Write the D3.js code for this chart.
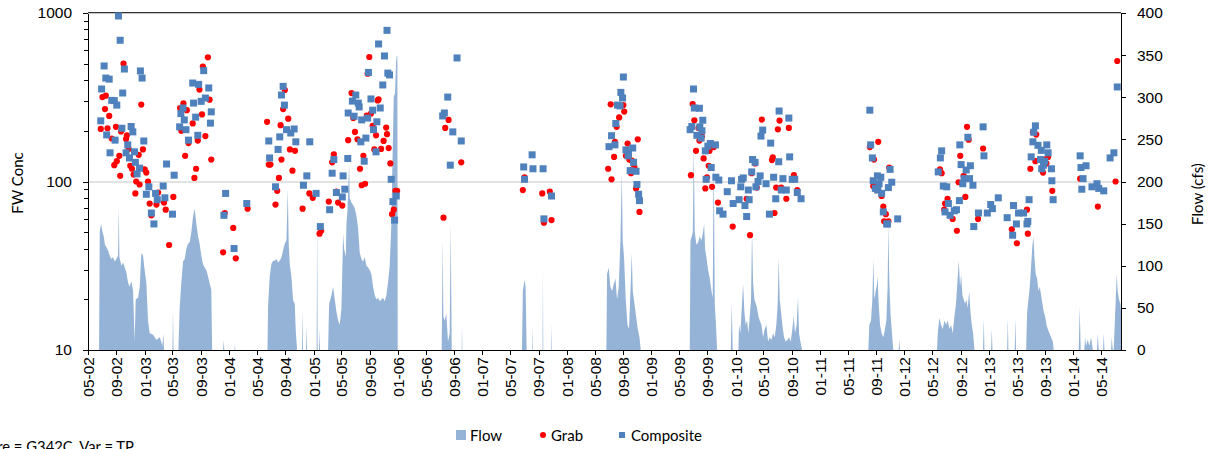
<!DOCTYPE html>
<html>
<head>
<meta charset="utf-8">
<script src="https://cdn.jsdelivr.net/npm/d3@7"></script>
<style>
	body { margin: 0; background: #fff; }
	svg { display: block; font-family: Lato, "Liberation Sans", sans-serif; }
	.axis path, .axis line { stroke: #000; shape-rendering: crispEdges; }
	.axis text { font-size: 15.5px; fill: #000; }
</style>
</head>
<body>
<div id="chart-container"></div>
<script>

// decimal years, daily flow (cfs)
var flow = [
	[2002.333,0],
	[2002.46,0],[2002.468,140],[2002.484,150],[2002.50,140],[2002.515,135],[2002.53,125],[2002.547,122],[2002.567,118],[2002.586,112],[2002.606,108],[2002.626,110],[2002.646,105],[2002.665,108],[2002.685,112],[2002.693,170],[2002.701,110],[2002.725,100],[2002.744,104],[2002.764,98],[2002.784,92],[2002.803,80],[2002.823,75],[2002.843,82],[2002.863,70],[2002.882,10],[2002.894,60],[2002.922,62],[2002.942,75],[2002.961,115],[2002.981,112],[2003.00,95],[2003.02,80],[2003.04,35],[2003.06,20],[2003.10,18],[2003.14,12],[2003.18,15],[2003.21,5],[2003.222,20],[2003.23,0],
	[2003.33,0],[2003.336,49],[2003.342,0],
	[2003.40,0],[2003.415,50],[2003.435,80],[2003.455,105],[2003.475,108],[2003.494,120],[2003.514,126],[2003.534,128],[2003.554,140],[2003.573,158],[2003.593,168],[2003.613,150],[2003.633,135],[2003.652,126],[2003.672,112],[2003.692,102],[2003.711,98],[2003.731,95],[2003.75,88],[2003.77,79],[2003.79,72],[2003.80,0],
	[2003.93,0],[2003.937,12],[2003.944,0],[2004.066,0],[2004.07,8],[2004.075,0],
	[2004.455,0],[2004.462,53],[2004.481,87],[2004.501,102],[2004.521,106],[2004.541,106],[2004.56,108],[2004.58,104],[2004.60,106],[2004.62,110],[2004.639,118],[2004.659,126],[2004.679,130],[2004.695,191],[2004.706,126],[2004.718,102],[2004.738,87],[2004.758,59],[2004.777,55],[2004.789,23],[2004.805,0],
	[2004.862,0],[2004.868,48],[2004.874,0],[2004.91,0],[2004.916,30],[2004.922,0],[2005.036,0],[2005.042,165],[2005.048,0],[2005.064,0],[2005.07,25],[2005.076,0],
	[2005.172,0],[2005.184,55],[2005.212,65],[2005.231,75],[2005.251,60],[2005.271,45],[2005.291,35],[2005.31,30],[2005.33,50],[2005.35,138],[2005.362,120],[2005.382,110],[2005.389,150],[2005.401,165],[2005.421,221],[2005.428,180],[2005.448,175],[2005.468,172],[2005.488,168],[2005.507,160],[2005.527,145],[2005.547,115],[2005.567,108],[2005.586,105],[2005.606,110],[2005.626,100],[2005.646,98],[2005.665,95],[2005.685,90],[2005.705,75],[2005.725,65],[2005.744,60],[2005.764,62],[2005.784,58],[2005.804,60],[2005.823,62],[2005.843,58],[2005.863,65],[2005.882,80],[2005.902,100],[2005.922,150],[2005.934,220],[2005.95,300],[2005.965,305],[2005.977,340],[2005.985,350],[2005.993,348],[2005.997,0],
	[2006.518,0],[2006.53,132],[2006.538,40],[2006.554,35],[2006.573,43],[2006.593,10],[2006.613,20],[2006.625,150],[2006.637,0],[2006.755,0],[2006.759,30],[2006.763,0],
	[2007.47,0],[2007.48,70],[2007.50,83],[2007.513,75],[2007.525,0],[2007.588,0],[2007.592,28],[2007.596,0],[2007.714,0],[2007.718,98],[2007.722,0],[2007.813,0],[2007.817,31],[2007.821,0],
	[2008.469,0],[2008.477,90],[2008.497,98],[2008.516,75],[2008.536,70],[2008.556,78],[2008.576,85],[2008.595,60],[2008.615,75],[2008.635,130],[2008.651,211],[2008.662,130],[2008.678,110],[2008.698,60],[2008.718,30],[2008.737,25],[2008.757,80],[2008.769,115],[2008.781,70],[2008.801,55],[2008.82,40],[2008.84,25],[2008.86,15],[2008.876,0],
	[2009.456,0],[2009.464,130],[2009.48,135],[2009.492,140],[2009.503,243],[2009.515,140],[2009.535,125],[2009.555,128],[2009.574,135],[2009.594,130],[2009.614,140],[2009.626,150],[2009.638,120],[2009.653,110],[2009.673,95],[2009.693,85],[2009.713,70],[2009.728,62],[2009.74,237],[2009.752,55],[2009.764,35],[2009.78,0],
	[2009.942,0],[2009.953,55],[2009.965,0],[2010.032,0],[2010.04,30],[2010.056,20],[2010.072,50],[2010.088,78],[2010.103,45],[2010.119,30],[2010.135,35],[2010.151,20],[2010.167,40],[2010.182,60],[2010.194,144],[2010.206,80],[2010.222,60],[2010.238,55],[2010.253,50],[2010.269,40],[2010.285,35],[2010.305,30],[2010.325,15],[2010.344,25],[2010.364,30],[2010.384,10],[2010.403,15],[2010.423,12],[2010.443,20],[2010.463,15],[2010.482,30],[2010.498,55],[2010.51,110],[2010.522,60],[2010.538,45],[2010.553,30],[2010.573,15],[2010.593,10],[2010.613,12],[2010.632,15],[2010.652,10],[2010.672,25],[2010.688,40],[2010.703,20],[2010.723,30],[2010.739,63],[2010.751,20],[2010.767,10],[2010.787,0],
	[2011.572,0],[2011.584,30],[2011.604,35],[2011.62,60],[2011.632,108],[2011.643,60],[2011.659,70],[2011.671,75],[2011.683,87],[2011.695,55],[2011.711,30],[2011.73,20],[2011.75,15],[2011.77,25],[2011.786,35],[2011.801,75],[2011.809,150],[2011.821,80],[2011.837,40],[2011.853,20],[2011.868,0],[2011.932,0],[2011.94,12],[2011.947,0],
	[2012.386,0],[2012.394,20],[2012.413,38],[2012.433,30],[2012.453,25],[2012.473,35],[2012.492,30],[2012.512,35],[2012.532,25],[2012.551,30],[2012.571,20],[2012.591,40],[2012.61,55],[2012.626,80],[2012.642,106],[2012.658,75],[2012.67,90],[2012.686,65],[2012.701,60],[2012.717,55],[2012.733,60],[2012.749,50],[2012.765,70],[2012.781,45],[2012.796,30],[2012.812,20],[2012.828,0],
	[2012.93,0],[2012.938,38],[2012.946,0],[2013.025,0],[2013.033,25],[2013.041,0],[2013.215,0],[2013.223,38],[2013.23,0],[2013.305,0],[2013.313,38],[2013.32,0],
	[2013.44,0],[2013.452,45],[2013.467,60],[2013.483,75],[2013.499,100],[2013.515,125],[2013.527,134],[2013.538,110],[2013.554,90],[2013.57,85],[2013.586,70],[2013.602,75],[2013.617,65],[2013.633,55],[2013.649,45],[2013.665,40],[2013.681,30],[2013.696,25],[2013.716,20],[2013.736,15],[2013.756,10],[2013.767,0],
	[2014.063,0],[2014.075,51],[2014.087,0],[2014.13,0],[2014.138,15],[2014.15,5],[2014.17,12],[2014.19,5],[2014.21,15],[2014.23,0],[2014.28,0],[2014.289,20],[2014.30,0],[2014.352,0],[2014.36,20],[2014.368,0],[2014.447,0],[2014.454,15],[2014.467,0],[2014.478,0],[2014.49,30],[2014.502,60],[2014.514,90],[2014.525,70],[2014.541,60],[2014.557,55],[2014.569,40]
];

// grab samples [decimal year, conc]
var grab = [
	[2002.75,500],[2002.50,317],[2002.54,323],[2002.53,269],[2002.58,245],[2002.48,205],[2002.56,207],[2002.66,211],[2002.61,180],[2002.78,179],[2002.79,188],[2002.72,198],[2002.70,142],[2002.67,132],[2002.64,125],[2002.71,108],[2002.96,286],[2002.81,156],[2002.85,119],[2002.83,124],[2002.87,110],[2002.90,100],[2002.94,96],[2002.89,85],[2002.98,155],[2002.93,144],[2003.00,118],[2003.02,113],[2003.04,100],[2003.06,74],[2003.08,63],[2003.14,73],[2003.16,86],[2003.23,75],[2003.25,68],[2003.34,81],[2003.29,42],[2003.95,65],[2003.93,38],[2004.05,53],[2004.08,35],[2004.22,69],
	[2003.75,546],[2003.69,480],[2003.65,351],[2003.77,306],[2003.46,291],[2003.42,273],[2003.50,265],[2003.68,250],[2003.57,221],[2003.435,200],[2003.52,169],[2003.63,175],[2003.72,186],[2003.79,135],[2003.48,142],[2003.61,119],[2003.59,105],
	[2004.66,349],[2004.64,269],[2004.70,236],[2004.45,226],[2004.61,216],[2004.72,155],[2004.62,135],[2004.78,152],[2004.75,116],[2004.49,126],[2004.47,126],[2004.59,105],[2004.57,88],[2004.55,73],[2004.87,69],[2004.95,85],[2004.99,80],[2005.07,49],[2005.09,51],[2005.24,145],[2005.22,130],[2005.27,87],[2005.18,76],[2005.29,75],[2005.34,72],[2005.41,176],
	[2005.66,548],[2005.64,436],[2005.77,307],[2005.76,303],[2005.45,335],[2005.47,238],[2005.63,246],[2005.68,253],[2005.70,214],[2005.49,197],[2005.74,188],[2005.86,209],[2005.87,191],[2005.52,178],[2005.83,174],[2005.59,142],[2005.55,119],[2005.80,156],[2005.72,155],[2005.89,158],[2005.91,128],[2005.57,95],[2005.61,97],[2005.97,88],[2005.99,88],[2005.95,68],[2005.93,64],
	[2006.60,232],[2006.56,208],[2006.75,130],[2006.54,61],
	[2007.50,106],[2007.48,89],[2007.71,85],[2007.80,87],[2007.73,57],[2007.82,59],
	[2008.52,287],[2008.67,284],[2008.68,260],[2008.62,240],[2008.59,211],[2008.57,172],[2008.72,168],[2008.84,178],[2008.70,142],[2008.56,140],[2008.74,135],[2008.77,133],[2008.80,122],[2008.78,118],[2008.76,112],[2008.49,119],[2008.53,103],[2008.82,91],[2008.86,66],
	[2009.49,288],[2009.51,231],[2009.56,208],[2009.60,185],[2009.57,175],[2009.53,152],[2009.62,137],[2009.69,152],[2009.74,160],[2009.68,124],[2009.66,106],[2009.64,91],[2009.72,93],[2009.47,109],[2009.79,75],[2009.965,54],[2010.17,48],[2010.13,79],[2010.25,92],[2010.19,112],[2010.23,128],[2010.31,233],[2010.52,230],[2010.50,204],[2010.63,208],[2010.43,134],[2010.44,139],[2010.46,65],[2010.48,92],[2010.54,92],[2010.60,79],[2010.69,109],[2010.73,89],
	[2011.59,160],[2011.69,172],[2011.64,135],[2011.63,94],[2011.67,89],[2011.73,82],[2011.75,71],[2011.76,58],[2011.78,64],[2011.82,121],[2011.81,58],
	[2012.42,118],[2012.44,112],[2012.51,79],[2012.48,74],[2012.47,68],[2012.57,60],[2012.62,51],[2012.66,142],[2012.74,211],[2012.76,177],[2012.70,108],[2012.72,81],[2012.64,99],[2012.87,60],[2012.93,157],[2013.27,52],[2013.33,43],[2013.45,68],[2013.46,49],
	[2013.52,196],[2013.56,190],[2013.55,132],[2013.60,135],[2013.66,135],[2013.70,140],[2013.49,119],[2013.64,113],[2013.68,128],[2013.75,88],
	[2014.08,104],[2014.29,71],[2014.50,100],[2014.52,519]
];

// composite samples [decimal year, conc]
var composite = [
	[2002.69,960],[2002.71,689],[2002.52,485],[2002.76,465],[2002.95,453],[2002.97,411],[2002.54,411],[2002.58,405],[2002.49,354],[2002.74,335],[2002.61,303],[2002.64,302],[2002.67,284],[2002.48,229],[2002.73,207],[2002.84,212],[2002.86,197],[2002.55,189],[2002.65,176],[2002.99,174],[2002.80,165],[2002.59,148],[2002.78,148],[2002.88,150],[2002.82,138],[2002.89,130],[2002.94,120],[2002.91,111],[2003.26,127],[2003.35,109],[2003.05,93],[2003.22,94],[2003.02,84],[2003.13,85],[2003.15,78],[2003.24,80],[2003.08,65],[2003.33,64],[2003.11,56],
	[2003.96,85],[2003.94,63],[2004.06,40],[2004.21,74],
	[2003.57,384],[2003.64,377],[2003.76,359],[2003.70,455],[2003.72,313],[2003.67,299],[2003.58,292],[2003.455,273],[2003.43,253],[2003.47,232],[2003.605,241],[2003.79,259],[2003.78,222],[2003.415,211],[2003.49,203],[2003.52,176],[2003.63,188],
	[2004.64,367],[2004.62,326],[2004.655,284],[2004.68,203],[2004.77,205],[2004.73,194],[2004.79,172],[2004.955,172],[2004.47,174],[2004.60,184],[2004.58,155],[2004.48,138],[2004.55,93],[2004.88,95],[2004.92,108],[2005.03,85],[2005.19,68],[2005.08,54],[2005.22,112],[2005.24,135],[2005.405,137],[2005.41,255],[2005.35,108],[2005.37,90],[2005.34,81],[2005.27,86],
	[2005.87,789],[2005.77,655],[2005.84,556],[2005.65,444],[2005.88,440],[2005.90,429],[2005.82,374],[2005.50,326],[2005.46,300],[2005.53,292],[2005.54,277],[2005.68,309],[2005.48,244],[2005.57,232],[2005.64,238],[2005.70,265],[2005.79,273],[2005.75,226],[2005.71,203],[2005.62,181],[2005.56,172],[2005.74,150],[2005.60,132],[2005.92,103],[2005.98,82],[2005.94,76],[2005.96,59],
	[2006.70,541],[2006.59,317],[2006.55,255],[2006.53,245],[2006.65,197],[2006.75,174],[2006.62,125],
	[2007.59,144],[2007.49,122],[2007.60,119],[2007.72,119],[2007.50,103],[2007.82,82],[2007.73,60],
	[2008.67,417],[2008.64,338],[2008.66,313],[2008.60,284],[2008.63,281],[2008.58,221],[2008.53,187],[2008.50,161],[2008.57,165],[2008.70,154],[2008.73,146],[2008.78,158],[2008.725,142],[2008.79,130],[2008.75,116],[2008.82,115],[2008.83,96],[2008.85,84],[2008.86,77],
	[2009.50,354],[2009.51,273],[2009.57,272],[2009.61,231],[2009.575,211],[2009.48,212],[2009.46,203],[2009.60,200],[2009.54,188],[2009.59,181],[2009.70,168],[2009.67,162],[2009.76,165],[2009.64,152],[2009.71,121],[2009.765,106],[2009.65,103],[2009.80,102],[2009.95,101],[2009.90,87],[2010.07,103],[2010.09,105],[2010.06,93],[2010.15,89],[2010.20,135],[2010.23,130],[2010.19,114],[2010.29,108],[2010.265,100],[2010.24,93],[2010.36,97],[2010.45,106],[2010.56,104],[2010.67,103],[2010.70,103],[2010.54,89],[2010.60,89],[2010.51,131],[2010.64,140],[2010.415,169],[2010.30,186],[2010.32,202],[2010.515,262],[2010.63,238],[2009.97,74],[2010.04,78],[2010.11,72],[2010.16,78],[2009.81,67],[2009.85,64],[2010.13,62],[2010.40,64],[2010.475,79],[2010.73,86],[2010.775,79],
	[2011.59,265],[2011.60,165],[2011.62,138],[2011.68,108],[2011.72,106],[2011.63,101],[2011.70,97],[2011.655,91],[2011.685,89],[2011.73,85],[2011.75,66],[2011.79,56],[2011.80,56],[2011.81,92],[2011.85,99],[2011.83,118],[2011.92,60],
	[2012.44,152],[2012.425,138],[2012.40,114],[2012.46,94],[2012.50,93],[2012.52,74],[2012.48,66],[2012.54,63],[2012.59,67],[2012.615,68],[2012.65,77],[2012.67,126],[2012.73,117],[2012.78,124],[2012.705,104],[2012.77,104],[2012.69,97],[2012.81,95],[2012.655,165],[2012.75,183],[2012.93,211],[2012.94,142],[2012.875,65],[2012.82,54],[2012.98,65],[2013.02,73],[2013.04,69],[2013.11,80],[2013.215,61],[2013.29,72],[2013.28,48],[2013.325,56],[2013.35,65],[2013.41,65],[2013.46,58],[2013.45,56],[2013.475,78],
	[2013.55,214],[2013.53,196],[2013.52,172],[2013.50,140],[2013.58,164],[2013.62,153],[2013.685,165],[2013.70,148],[2013.61,135],[2013.645,125],[2013.625,119],[2013.74,119],[2013.66,132],[2013.745,101],[2013.76,78],
	[2014.08,142],[2014.09,121],[2014.15,124],[2014.115,104],[2014.10,90],[2014.22,93],[2014.28,97],[2014.30,91],[2014.36,88],[2014.435,138],[2014.48,148],[2014.52,364]
];

var conc_ticks = [10, 100, 1000];
var conc_minor_ticks = [20, 30, 40, 50, 60, 70, 80, 90, 200, 300, 400, 500, 600, 700, 800, 900];
var flow_ticks = [0, 50, 100, 150, 200, 250, 300, 350, 400];
var legend_items = [
	{name: "Flow", kind: "area"},
	{name: "Grab", kind: "dot"},
	{name: "Composite", kind: "square"}
];
var footer_text = "Structure = G342C, Var = TP";

var flow_color = "#95b3d7";
var grab_color = "#ff0000";
var composite_color = "#4f81bd";

function year_to_date(t) {
	var y = Math.floor(t);
	var start = Date.UTC(y, 0, 1), end = Date.UTC(y + 1, 0, 1);
	return new Date(start + (t - y) * (end - start));
}

function draw_chart() {
	var width = 1212, height = 449;
	var left = 88, right = 1121, top = 13, bottom = 350;

	var svg = d3.select("#chart-container").append("svg")
				.attr("width", width)
				.attr("height", height);

	var x = d3.scaleUtc()
			  .domain([new Date(Date.UTC(2002, 4, 1)), new Date(Date.UTC(2014, 6, 26))])
			  .range([left, right]);
	var y_conc = d3.scaleLog().domain([10, 1000]).range([bottom, top]);
	var y_flow = d3.scaleLinear().domain([0, 400]).range([bottom, top]);

	// gridlines
	svg.append("line")
		.attr("x1", left).attr("x2", right)
		.attr("y1", y_conc(100) + 0.5).attr("y2", y_conc(100) + 0.5)
		.attr("stroke", "#c6c6c6");
	svg.append("line")
		.attr("x1", left).attr("x2", right)
		.attr("y1", top - 0.5).attr("y2", top - 0.5)
		.attr("stroke", "#333");
	svg.append("line")
		.attr("x1", left).attr("x2", right)
		.attr("y1", top + 0.5).attr("y2", top + 0.5)
		.attr("stroke", "#c6c6c6");

	// flow area on the secondary axis
	var area = d3.area()
				 .x(function(d) { return x(year_to_date(d[0])); })
				 .y0(bottom)
				 .y1(function(d) { return y_flow(d[1]); });
	svg.append("path")
		.datum(flow)
		.attr("d", area)
		.attr("fill", flow_color);

	svg.append("g")
		.selectAll("circle")
		.data(grab)
		.join("circle")
			.attr("cx", function(d) { return x(year_to_date(d[0])); })
			.attr("cy", function(d) { return y_conc(d[1]); })
			.attr("r", 3.1)
			.attr("fill", grab_color);

	svg.append("g")
		.selectAll("rect")
		.data(composite)
		.join("rect")
			.attr("x", function(d) { return x(year_to_date(d[0])) - 3.5; })
			.attr("y", function(d) { return y_conc(d[1]) - 3.5; })
			.attr("width", 7)
			.attr("height", 7)
			.attr("fill", composite_color);

	// axes
	svg.append("g")
		.attr("class", "axis")
		.attr("transform", "translate(" + left + ",0)")
		.call(d3.axisLeft(y_conc).tickValues(conc_minor_ticks).tickSize(4).tickSizeOuter(0).tickFormat(""));
	svg.append("g")
		.attr("class", "axis")
		.attr("transform", "translate(" + left + ",0)")
		.call(d3.axisLeft(y_conc).tickValues(conc_ticks).tickSize(5).tickPadding(11).tickSizeOuter(0).tickFormat(d3.format("d")));

	svg.append("g")
		.attr("class", "axis")
		.attr("transform", "translate(" + right + ",0)")
		.call(d3.axisRight(y_flow).tickValues(flow_ticks).tickSize(5).tickPadding(11).tickSizeOuter(0));

	var x_axis = svg.append("g")
					.attr("class", "axis")
					.attr("transform", "translate(0," + bottom + ")")
					.call(d3.axisBottom(x).ticks(d3.utcMonth.every(4)).tickFormat(d3.utcFormat("%m-%y")).tickSize(5).tickSizeOuter(0));
	x_axis.selectAll("text")
		.attr("transform", "translate(0,7) rotate(-90)")
		.attr("text-anchor", "end")
		.attr("x", 0)
		.attr("y", 0)
		.attr("dy", "0.35em");

	// axis titles
	svg.append("text")
		.attr("transform", "translate(23,183) rotate(-90)")
		.attr("text-anchor", "middle")
		.style("font-size", "15px")
		.text("FW Conc");
	svg.append("text")
		.attr("transform", "translate(1203,194) rotate(-90)")
		.attr("text-anchor", "middle")
		.style("font-size", "15px")
		.text("Flow (cfs)");

	// legend
	var legend_x = [456, 539, 619];
	var legend = svg.append("g")
					.selectAll("g")
					.data(legend_items)
					.join("g")
					.attr("transform", function(d, i) { return "translate(" + legend_x[i] + ",435)"; });
	legend.each(function(d) {
		var g = d3.select(this);
		if (d.kind == "area") {
			g.append("rect").attr("x", 0).attr("y", -5).attr("width", 10).attr("height", 10).attr("fill", flow_color);
		} else if (d.kind == "dot") {
			g.append("circle").attr("cx", 4).attr("cy", 0).attr("r", 3).attr("fill", grab_color);
		} else {
			g.append("rect").attr("x", 0).attr("y", -3).attr("width", 6).attr("height", 6).attr("fill", composite_color);
		}
	});
	legend.append("text")
		.attr("x", function(d) { return d.kind == "area" ? 14 : 12; })
		.attr("y", 5.5)
		.style("font-size", "15px")
		.text(function(d) { return d.name; });

	// footer label, clipped at the left edge as in the original export
	svg.append("text")
		.attr("x", 134)
		.attr("y", 452)
		.attr("text-anchor", "end")
		.style("font-size", "14.8px")
		.text(footer_text);
}

draw_chart();
</script>
</body>
</html>
